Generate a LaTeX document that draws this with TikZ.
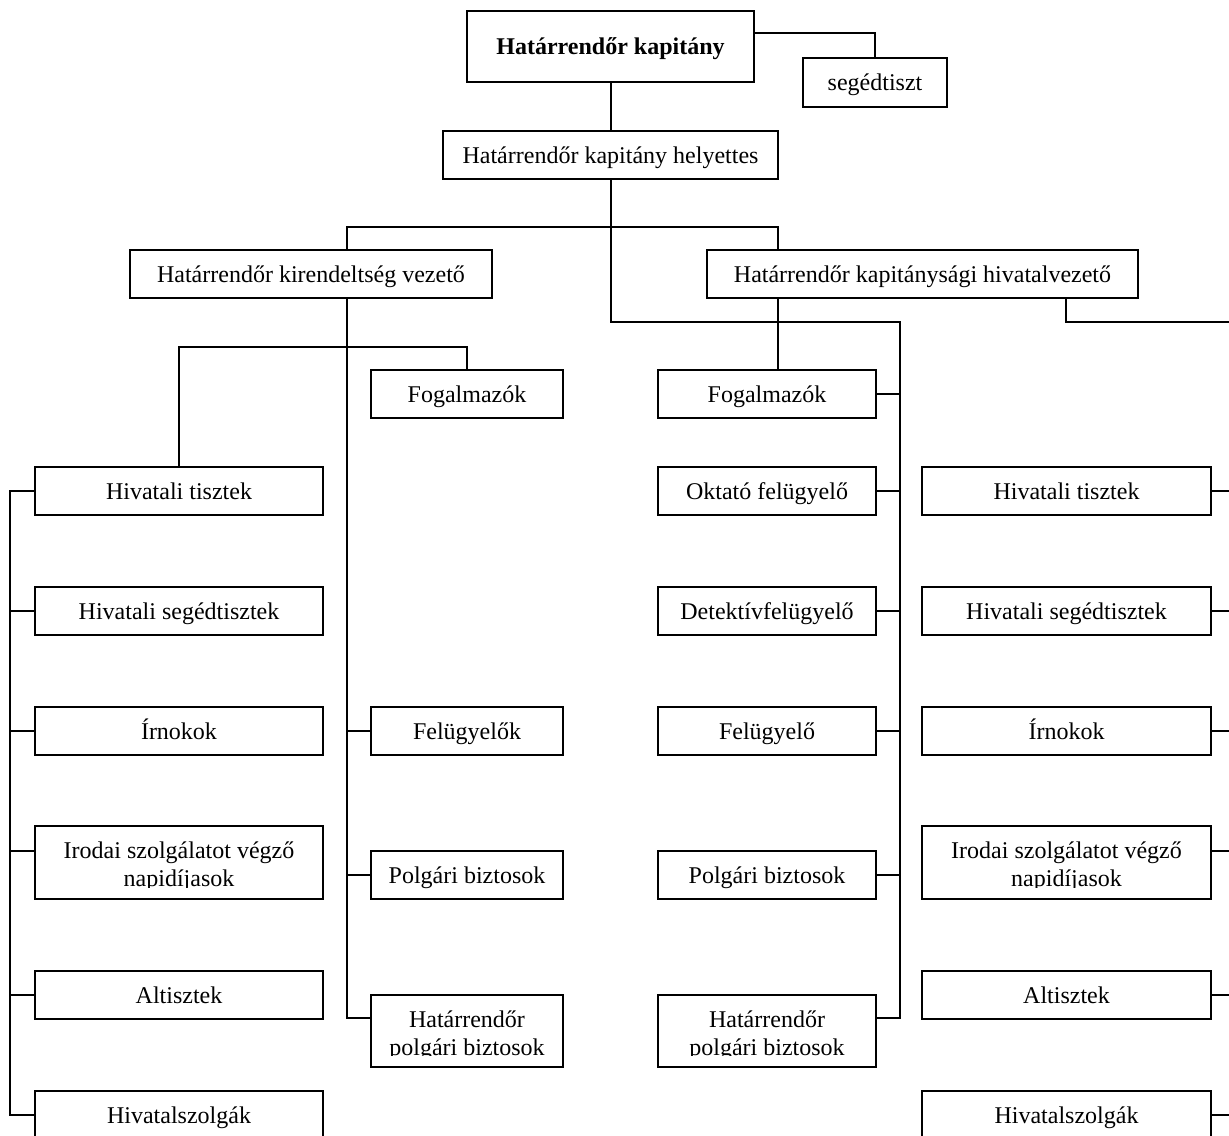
\documentclass[tikz,border=0pt]{standalone}
\usepackage{fontspec}
\setmainfont{Liberation Serif}
\newcommand{\mybox}[6]{%
  \pgfmathsetmacro{\bcx}{(#2+#4)/2}%
  \pgfmathsetmacro{\bcy}{(#3+#5)/2}%
  \pgfmathsetmacro{\bbw}{(#4-#2)*0.5}%
  \pgfmathsetmacro{\bbh}{(#5-#3)*0.5}%
  \node[bx, minimum width=\bbw pt, minimum height=\bbh pt] (#1) at (\bcx,\bcy) {#6};}
\newcommand{\twoline}[2]{\begin{tabular}[t]{@{}c@{}}#1\\#2\end{tabular}}
\begin{document}
\begin{tikzpicture}[x=0.5pt,y=-0.5pt,
  bx/.style={draw, line width=1pt, rectangle, inner sep=0pt, outer sep=0pt, fill=white,
    text height=8.2pt, text depth=0pt,
    font=\fontsize{12}{14}\selectfont},
  txt/.style={inner sep=0pt, outer sep=0pt, font=\fontsize{12}{14}\selectfont},
  conn/.style={line width=1pt}]
\fill[white] (0,0) rectangle (1229,1135);
\clip (0,0) rectangle (1229,1135);

% top
\mybox{kap}{467}{11}{754}{82}{\bfseries Határrendőr kapitány}
\mybox{seg}{803}{58}{947}{107}{segédtiszt}
\mybox{hely}{443}{131}{778}{179}{Határrendőr kapitány helyettes}
\mybox{kir}{130}{250}{492}{298}{Határrendőr kirendeltség vezető}
\mybox{hiv}{707}{250}{1138}{298}{Határrendőr kapitánysági hivatalvezető}
\mybox{fogL}{371}{370}{563}{418}{Fogalmazók}
\mybox{fogM}{658}{370}{876}{418}{Fogalmazók}

% left column
\mybox{L1}{35}{467}{323}{515}{Hivatali tisztek}
\mybox{L2}{35}{587}{323}{635}{Hivatali segédtisztek}
\mybox{L3}{35}{707}{323}{755}{Írnokok}
\mybox{L4}{35}{826}{323}{899}{}
\mybox{L5}{35}{971}{323}{1019}{Altisztek}
\mybox{L6}{35}{1091}{323}{1139}{Hivatalszolgák}

% middle-left column
\mybox{ML1}{371}{707}{563}{755}{Felügyelők}
\mybox{ML2}{371}{851}{563}{899}{Polgári biztosok}
\mybox{ML3}{371}{995}{563}{1067}{}

% middle column
\mybox{M1}{658}{467}{876}{515}{Oktató felügyelő}
\mybox{M2}{658}{587}{876}{635}{Detektívfelügyelő}
\mybox{M3}{658}{707}{876}{755}{Felügyelő}
\mybox{M4}{658}{851}{876}{899}{Polgári biztosok}
\mybox{M5}{658}{995}{876}{1067}{}

% right column
\mybox{R1}{922}{467}{1211}{515}{Hivatali tisztek}
\mybox{R2}{922}{587}{1211}{635}{Hivatali segédtisztek}
\mybox{R3}{922}{707}{1211}{755}{Írnokok}
\mybox{R4}{922}{826}{1211}{899}{}
\mybox{R5}{922}{971}{1211}{1019}{Altisztek}
\mybox{R6}{922}{1091}{1211}{1139}{Hivatalszolgák}

% two-line texts, clipped as in the original
\begin{scope}
\clip (35,826) rectangle (323,887);
\node[txt, anchor=base] (L4t) at (179,858) {\twoline{Irodai szolgálatot végző}{napidíjasok}};
\end{scope}
\begin{scope}
\clip (922,826) rectangle (1211,887);
\node[txt, anchor=base] (R4t) at (1066.5,858) {\twoline{Irodai szolgálatot végző}{napidíjasok}};
\end{scope}
\begin{scope}
\clip (371,995) rectangle (563,1055);
\node[txt, anchor=base] (ML3t) at (467,1027) {\twoline{Határrendőr}{polgári biztosok}};
\end{scope}
\begin{scope}
\clip (658,995) rectangle (876,1055);
\node[txt, anchor=base] (M5t) at (767,1027) {\twoline{Határrendőr}{polgári biztosok}};
\end{scope}

% connectors
\coordinate (c33) at (0,33);
\draw[conn] (kap.east |- c33) -| (seg.north);
\draw[conn] (kap.south) -- (hely.north);
\coordinate (kirX) at (347,227);
\coordinate (hivX) at (778,227);
\draw[conn] (kir.north -| kirX) |- (hivX) -- (hiv.north -| hivX);

\coordinate (mBus) at (900,322);
\coordinate (M5c) at ([yshift=-11.5pt]M5.north east);
\draw[conn] (hely.south) |- (mBus) |- (M5c);
\foreach \n in {fogM,M1,M2,M3,M4} \draw[conn] (\n.east) -- (\n.east -| mBus);
\draw[conn] (hiv.south -| hivX) -- (fogM.north -| hivX);

\coordinate (hivOut) at (1066,322);
\coordinate (rBus) at (1233,322);
\draw[conn] (hiv.south -| hivOut) |- (rBus) |- (R6.east);
\foreach \n in {R1,R2,R3,R5} \draw[conn] (\n.east) -- (\n.east -| rBus);
\coordinate (R4c) at ([yshift=-12.5pt]R4.north east);
\draw[conn] (R4c) -- (R4c -| rBus);

\coordinate (ML3c) at ([yshift=-11.5pt]ML3.north west);
\draw[conn] (kir.south -| kirX) |- (ML3c);
\foreach \n in {ML1,ML2} \draw[conn] (\n.west) -- (\n.west -| kirX);

\coordinate (lTop) at (178,347);
\draw[conn] (L1.north) |- (fogL.north |- lTop) -- (fogL.north);

\coordinate (lBus) at (10,0);
\draw[conn] (L1.west) -- (L1.west -| lBus) |- (L6.west);
\foreach \n in {L2,L3,L5} \draw[conn] (\n.west) -- (\n.west -| lBus);
\coordinate (L4c) at ([yshift=-12.5pt]L4.north west);
\draw[conn] (L4c) -- (L4c -| lBus);
\end{tikzpicture}
\end{document}
